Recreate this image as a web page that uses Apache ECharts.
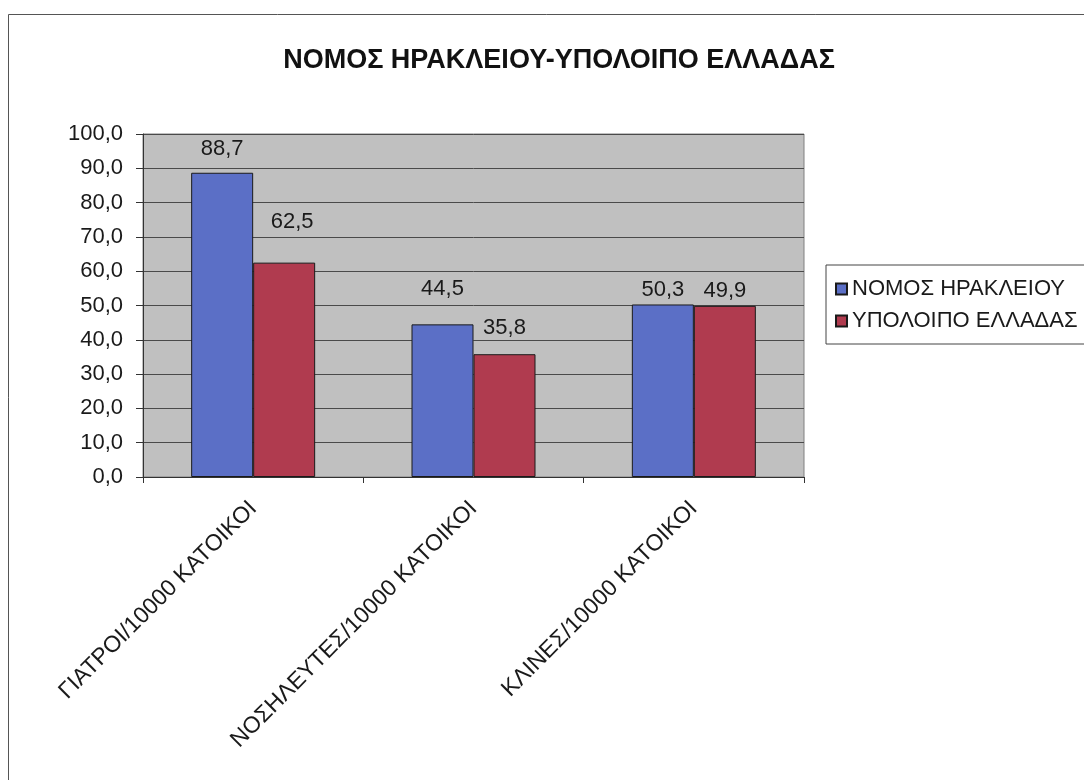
<!DOCTYPE html>
<html>
<head>
<meta charset="utf-8">
<script src="https://cdn.jsdelivr.net/npm/echarts@6/dist/echarts.min.js"></script>
<style>
  html, body { margin: 0; padding: 0; background: #ffffff; }
  #chart { width: 1084px; height: 780px; }
</style>
</head>
<body>
<div id="chart"></div>
<script>
// Health resources per 10000 inhabitants: Heraklion prefecture vs rest of Greece
const chartTitle = 'ΝΟΜΟΣ ΗΡΑΚΛΕΙΟΥ-ΥΠΟΛΟΙΠΟ ΕΛΛΑΔΑΣ';
const categories = ['ΓΙΑΤΡΟΙ/10000 ΚΑΤΟΙΚΟΙ', 'ΝΟΣΗΛΕΥΤΕΣ/10000 ΚΑΤΟΙΚΟΙ', 'ΚΛΙΝΕΣ/10000 ΚΑΤΟΙΚΟΙ'];
const seriesNames = ['ΝΟΜΟΣ ΗΡΑΚΛΕΙΟΥ', 'ΥΠΟΛΟΙΠΟ ΕΛΛΑΔΑΣ'];
const heraklionValues = [88.7, 44.5, 50.3];
const restOfGreeceValues = [62.5, 35.8, 49.9];
const yMin = 0;
const yMax = 100;
const yStep = 10;

// Label placement (distance above bar top, horizontal nudge) per series
const labelLayout = [
  { distance: [13, 24, 4], shift: [0, 0, 0] },
  { distance: [30, 15, 4], shift: [8, 0, 0] }
];
const seriesColors = ['#5b6fc6', '#b03b4f'];

const fmt = v => v.toFixed(1).replace('.', ',');

function buildData(values, layout) {
  return values.map((v, i) => ({
    value: v,
    label: { distance: layout.distance[i], offset: [layout.shift[i], 0] }
  }));
}

const chart = echarts.init(document.getElementById('chart'), null, { renderer: 'canvas' });
const font = 'Liberation Sans, Arial, sans-serif';

chart.setOption({
  backgroundColor: '#ffffff',
  animation: false,
  title: {
    text: chartTitle,
    left: 554,
    textAlign: 'center',
    top: 42,
    textStyle: { fontFamily: font, fontSize: 27, fontWeight: 'bold', color: '#111' }
  },
  graphic: [{
    type: 'rect',
    shape: { x: 8.5, y: 14.5, width: 1200, height: 900 },
    style: { fill: 'none', stroke: '#555', lineWidth: 1 },
    silent: true
  }],
  legend: {
    orient: 'vertical',
    left: 826,
    top: 265,
    padding: [13, 30, 12, 9],
    itemGap: 10,
    itemWidth: 11,
    itemHeight: 11,
    icon: 'rect',
    borderColor: '#444',
    borderWidth: 1,
    backgroundColor: '#ffffff',
    textStyle: { fontFamily: font, fontSize: 22, color: '#1a1a1a', padding: [0, 0, 0, 0] },
    data: seriesNames
  },
  grid: {
    left: 143,
    right: 280,
    top: 134,
    bottom: 303,
    show: true,
    backgroundColor: '#c0c0c0',
    borderColor: '#808080',
    borderWidth: 1
  },
  xAxis: {
    type: 'category',
    data: categories,
    axisLine: { show: true, lineStyle: { color: '#333', width: 1 } },
    axisTick: { show: true, length: 6, lineStyle: { color: '#333' } },
    axisLabel: {
      rotate: 45,
      interval: 0,
      margin: 28,
      fontFamily: font,
      fontSize: 23,
      color: '#1a1a1a'
    }
  },
  yAxis: {
    type: 'value',
    min: yMin,
    max: yMax,
    interval: yStep,
    axisLine: { show: true, lineStyle: { color: '#333', width: 1 } },
    axisTick: { show: true, length: 7, lineStyle: { color: '#333' } },
    splitLine: { show: true, lineStyle: { color: '#4a4a4a', width: 1 } },
    axisLabel: {
      margin: 20,
      fontFamily: font,
      fontSize: 22,
      color: '#1a1a1a',
      formatter: fmt
    }
  },
  series: [heraklionValues, restOfGreeceValues].map((vals, s) => ({
    name: seriesNames[s],
    type: 'bar',
    barWidth: 62,
    barGap: '0%',
    data: buildData(vals, labelLayout[s]),
    itemStyle: { color: seriesColors[s], borderColor: '#1a1a1a', borderWidth: 1 },
    label: {
      show: true,
      position: 'top',
      fontFamily: font,
      fontSize: 22,
      color: '#1a1a1a',
      formatter: p => fmt(p.value)
    }
  }))
});
</script>
</body>
</html>
